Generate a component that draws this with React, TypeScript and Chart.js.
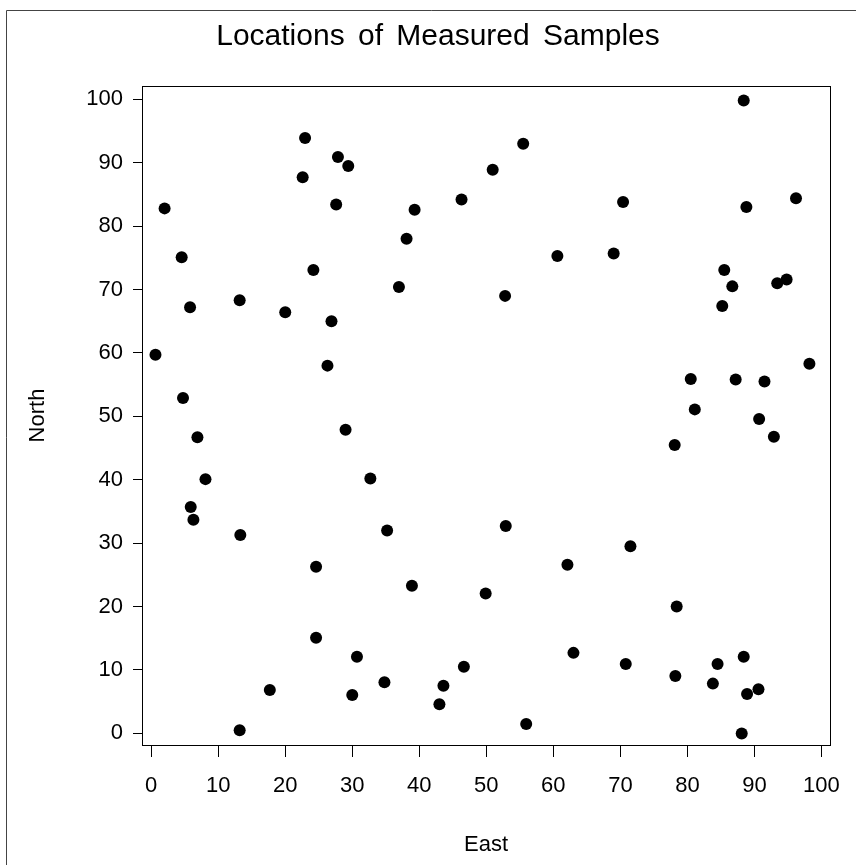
import React, { useEffect, useRef } from "react";
import { Chart, registerables } from "chart.js";

Chart.register(...registerables);

const chartTitle = "Locations of Measured Samples";
const xAxisTitle = "East";
const yAxisTitle = "North";

const xTickValues = [0, 10, 20, 30, 40, 50, 60, 70, 80, 90, 100];
const yTickValues = [0, 10, 20, 30, 40, 50, 60, 70, 80, 90, 100];

const eastValues = [
  22.96, 27.86, 29.4, 22.6, 2.0, 27.6, 4.55, 24.2, 13.2, 5.8, 20.0, 26.9, 0.64, 26.3, 4.75,
  55.5, 50.95, 46.3, 39.3, 38.1, 60.6, 36.96, 52.8,
  88.4, 70.4, 88.8, 96.2, 69.0, 85.5, 86.7, 93.4, 94.8, 85.2, 98.2, 80.5, 87.2, 91.5, 81.1, 90.7,
  92.9, 78.1, 71.5, 78.4, 70.8, 88.4, 84.5, 78.2, 83.8, 90.6, 88.9, 88.1,
  6.9, 29.0, 8.1, 32.7, 5.9, 6.3, 13.3, 24.6, 24.6, 30.7, 17.7, 30.0, 13.2,
  35.2, 52.9, 62.1, 38.9, 49.9, 63.0, 46.65, 34.8, 43.6, 43.0, 55.95,
];

const northValues = [
  93.9, 90.9, 89.5, 87.7, 82.8, 83.4, 75.1, 73.1, 68.3, 67.2, 66.4, 65.0, 59.7, 58.0, 52.9,
  93.0, 88.9, 84.2, 82.6, 78.0, 75.3, 70.4, 69.0,
  99.8, 83.8, 83.0, 84.4, 75.7, 73.1, 70.5, 71.0, 71.6, 67.4, 58.3, 55.9, 55.8, 55.5, 51.1, 49.6,
  46.8, 45.5, 29.5, 20.0, 10.95, 12.1, 10.95, 9.05, 7.85, 6.95, 6.2, 0.0,
  46.7, 47.9, 40.1, 40.2, 35.7, 33.7, 31.3, 26.3, 15.1, 12.1, 6.85, 6.05, 0.5,
  32.0, 32.7, 26.6, 23.3, 22.05, 12.7, 10.5, 8.05, 7.5, 4.6, 1.5,
];

const FONT = "'Liberation Sans', Arial, Helvetica, sans-serif";

export default function App() {
  const ref = useRef<HTMLCanvasElement>(null);

  useEffect(() => {
    if (!ref.current) return;

    const framePlugin = {
      id: "sasFrame",
      afterDraw(chart: any) {
        const ctx = chart.ctx as CanvasRenderingContext2D;
        const a = chart.chartArea;
        ctx.save();
        ctx.strokeStyle = "#000";
        ctx.lineWidth = 1;
        const l = Math.round(a.left) + 0.5;
        const t = Math.round(a.top) + 0.5;
        const r = Math.round(a.right) + 0.5;
        const b = Math.round(a.bottom) + 0.5;
        ctx.strokeRect(l, t, r - l, b - t);
        // outer frame
        ctx.strokeStyle = "#444";
        ctx.beginPath();
        ctx.moveTo(6.5, chart.height);
        ctx.lineTo(6.5, 10.5);
        ctx.lineTo(chart.width, 10.5);
        ctx.stroke();
        // title
        ctx.fillStyle = "#000";
        ctx.font = `30px ${FONT}`;
        (ctx as any).wordSpacing = "5px";
        ctx.textAlign = "center";
        ctx.textBaseline = "alphabetic";
        ctx.fillText(chartTitle, 438, 45);
        ctx.restore();
      },
    };

    const points = eastValues.map((x, i) => ({ x, y: northValues[i] }));

    const chart = new Chart(ref.current, {
      type: "scatter",
      data: {
        datasets: [
          {
            data: points,
            pointRadius: 6,
            pointHoverRadius: 6,
            pointBackgroundColor: "#000",
            pointBorderWidth: 0,
            borderWidth: 0,
          },
        ],
      },
      options: {
        responsive: false,
        animation: false,
        clip: false as any,
        layout: { padding: { top: 86, left: 0, right: 14, bottom: 0 } },
        plugins: {
          legend: { display: false },
          tooltip: { enabled: false },
          title: { display: false },
        },
        scales: {
          x: {
            type: "linear",
            min: -1.37,
            max: 101.28,
            afterFit: (s: any) => {
              s.height = 120;
            },
            afterBuildTicks: (s: any) => {
              s.ticks = xTickValues.map((v) => ({ value: v }));
            },
            grid: {
              display: true,
              drawOnChartArea: false,
              drawTicks: true,
              tickLength: 12,
              color: "#000",
              lineWidth: 1,
            },
            border: { display: false },
            ticks: {
              color: "#000",
              font: { family: FONT, size: 22 },
              padding: 16,
              maxRotation: 0,
              autoSkip: false,
            },
            title: {
              display: true,
              text: xAxisTitle,
              color: "#000",
              font: { family: FONT, size: 22 },
              padding: { top: 0, bottom: 7 },
            },
          },
          y: {
            type: "linear",
            min: -1.83,
            max: 102.1,
            afterFit: (s: any) => {
              s.width = 142;
            },
            afterBuildTicks: (s: any) => {
              s.ticks = yTickValues.map((v) => ({ value: v }));
            },
            grid: {
              display: true,
              drawOnChartArea: false,
              drawTicks: true,
              tickLength: 9,
              color: "#000",
              lineWidth: 1,
            },
            border: { display: false },
            ticks: {
              color: "#000",
              font: { family: FONT, size: 22 },
              padding: 10,
              autoSkip: false,
            },
            title: {
              display: true,
              text: yAxisTitle,
              color: "#000",
              font: { family: FONT, size: 22 },
              padding: { top: 25, bottom: 0 },
            },
          },
        },
      },
      plugins: [framePlugin],
    });

    return () => chart.destroy();
  }, []);

  return (
    <div style={{ position: "absolute", left: 0, top: 0, width: 856, height: 865, background: "#fff" }}>
      <canvas ref={ref} width={856} height={865} style={{ display: "block", width: 856, height: 865 }} />
    </div>
  );
}
